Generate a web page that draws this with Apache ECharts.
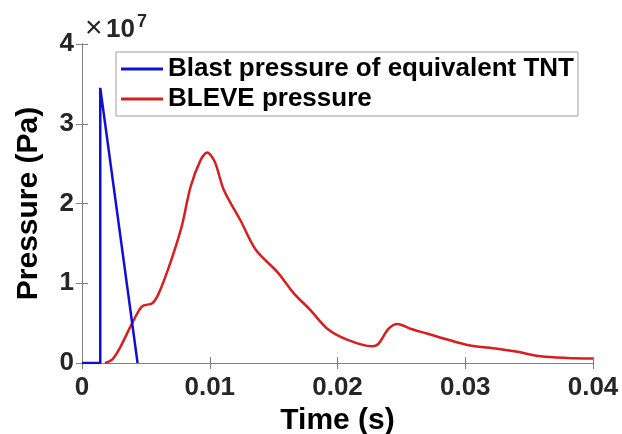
<!DOCTYPE html>
<html lang="en">
<head>
    <meta charset="UTF-8">
    <title>Pressure</title>
    <script src="https://cdn.jsdelivr.net/npm/echarts@6/dist/echarts.min.js"></script>
    <style type="text/css">
        html, body { margin: 0; padding: 0; background: #fff; }
        #chart { width: 622px; height: 434px; }
    </style>
</head>
<body>
<div id="chart"></div>
<script type="text/javascript">
// data (pressure in units of 1e7 Pa, as on the axis)
var tntTime = [0, 0.00143, 0.00143, 0.00435];
var tntPressure = [0, 0, 3.45, 0];
var bleveTime = [0.0018, 0.0024, 0.0030, 0.0039, 0.0047, 0.0055, 0.0060, 0.0069, 0.0078, 0.0085,
    0.0093, 0.0098, 0.0104, 0.0111, 0.0124, 0.0136, 0.0153, 0.0166, 0.0179, 0.0192,
    0.0208, 0.0227, 0.0232, 0.0240, 0.0247, 0.0257, 0.0270, 0.0288, 0.0304, 0.0325,
    0.0341, 0.0359, 0.0380, 0.0400];
var blevePressure = [0, 0.05, 0.2, 0.49, 0.71, 0.75, 0.87, 1.25, 1.71, 2.21,
    2.55, 2.64, 2.52, 2.17, 1.79, 1.42, 1.14, 0.87, 0.66, 0.43,
    0.29, 0.21, 0.24, 0.43, 0.49, 0.43, 0.37, 0.285, 0.22, 0.18,
    0.14, 0.084, 0.063, 0.055];
var seriesNames = ['Blast pressure of equivalent TNT', 'BLEVE pressure'];
var xTicks = [0, 0.04, 0.01];   // min, max, step
var yTicks = [0, 4, 1];

function pairs(xs, ys) {
    return xs.map(function (x, i) { return [x, ys[i]]; });
}

var font = 'Liberation Sans, Arial, sans-serif';
var axisGrey = '#808080';
var labelColor = '#262626';

var chart = echarts.init(document.getElementById('chart'));
var option = {
    animation: false,
    grid: { left: 82, right: 29, top: 44, bottom: 71, outerBoundsMode: 'none' },
    // exponent label above the y axis
    title: [{
        text: '×', left: 85, top: 14, padding: 0,
        textStyle: { fontFamily: font, fontWeight: 'normal', fontSize: 30, color: labelColor }
    }, {
        text: '10', left: 106, top: 17, padding: 0,
        textStyle: { fontFamily: font, fontWeight: 'bold', fontSize: 26, color: labelColor }
    }, {
        text: '7', left: 137, top: 13, padding: 0,
        textStyle: { fontFamily: font, fontWeight: 'bold', fontSize: 18, color: labelColor }
    }],
    legend: {
        left: 116,
        top: 52,
        orient: 'vertical',
        data: seriesNames,
        icon: 'rect',
        itemWidth: 42,
        itemHeight: 3,
        itemGap: 4,
        padding: [4, 4, 4, 5],
        borderColor: '#a0a0a0',
        borderWidth: 1,
        backgroundColor: '#fff',
        textStyle: { fontFamily: font, fontWeight: 'bold', fontSize: 26, color: '#000' }
    },
    xAxis: [{
        type: 'value',
        min: xTicks[0], max: xTicks[1], interval: xTicks[2],
        name: 'Time (s)',
        nameLocation: 'middle',
        nameGap: 36,
        nameTextStyle: { fontFamily: font, fontWeight: 'bold', fontSize: 30, color: '#000' },
        axisLine: { show: true, lineStyle: { color: axisGrey, width: 1 } },
        axisTick: { show: true, inside: true, length: 6, lineStyle: { color: axisGrey } },
        axisLabel: {
            fontFamily: font, fontWeight: 'bold', fontSize: 26, color: labelColor, margin: 12,
            formatter: function (v) { return String(parseFloat(v.toFixed(3))); }
        },
        splitLine: { show: false }
    }, {
        type: 'value', position: 'top',
        min: xTicks[0], max: xTicks[1], interval: xTicks[2],
        axisLine: { show: true, lineStyle: { color: axisGrey, width: 1 } },
        axisTick: { show: true, inside: true, length: 6, lineStyle: { color: axisGrey } },
        axisLabel: { show: false },
        splitLine: { show: false }
    }],
    yAxis: [{
        type: 'value',
        min: yTicks[0], max: yTicks[1], interval: yTicks[2],
        name: 'Pressure (Pa)',
        nameLocation: 'middle',
        nameGap: 38,
        nameTextStyle: { fontFamily: font, fontWeight: 'bold', fontSize: 30, color: '#000' },
        axisLine: { show: true, lineStyle: { color: axisGrey, width: 1 } },
        axisTick: { show: true, inside: true, length: 6, lineStyle: { color: axisGrey } },
        axisLabel: { fontFamily: font, fontWeight: 'bold', fontSize: 26, color: labelColor, margin: 8 },
        splitLine: { show: false }
    }, {
        type: 'value', position: 'right',
        min: yTicks[0], max: yTicks[1], interval: yTicks[2],
        axisLine: { show: true, lineStyle: { color: axisGrey, width: 1 } },
        axisTick: { show: true, inside: true, length: 6, lineStyle: { color: axisGrey } },
        axisLabel: { show: false },
        splitLine: { show: false }
    }],
    series: [{
        name: seriesNames[0],
        type: 'line',
        data: pairs(tntTime, tntPressure),
        showSymbol: false,
        symbol: 'none',
        lineStyle: { color: '#1010d0', width: 2.5 },
        itemStyle: { color: '#1010d0' },
        z: 3
    }, {
        name: seriesNames[1],
        type: 'line',
        data: pairs(bleveTime, blevePressure),
        smooth: 0.3,
        showSymbol: false,
        symbol: 'none',
        lineStyle: { color: '#d81e1e', width: 2.5 },
        itemStyle: { color: '#d81e1e' },
        z: 2
    }]
};
chart.setOption(option);
</script>
</body>
</html>
